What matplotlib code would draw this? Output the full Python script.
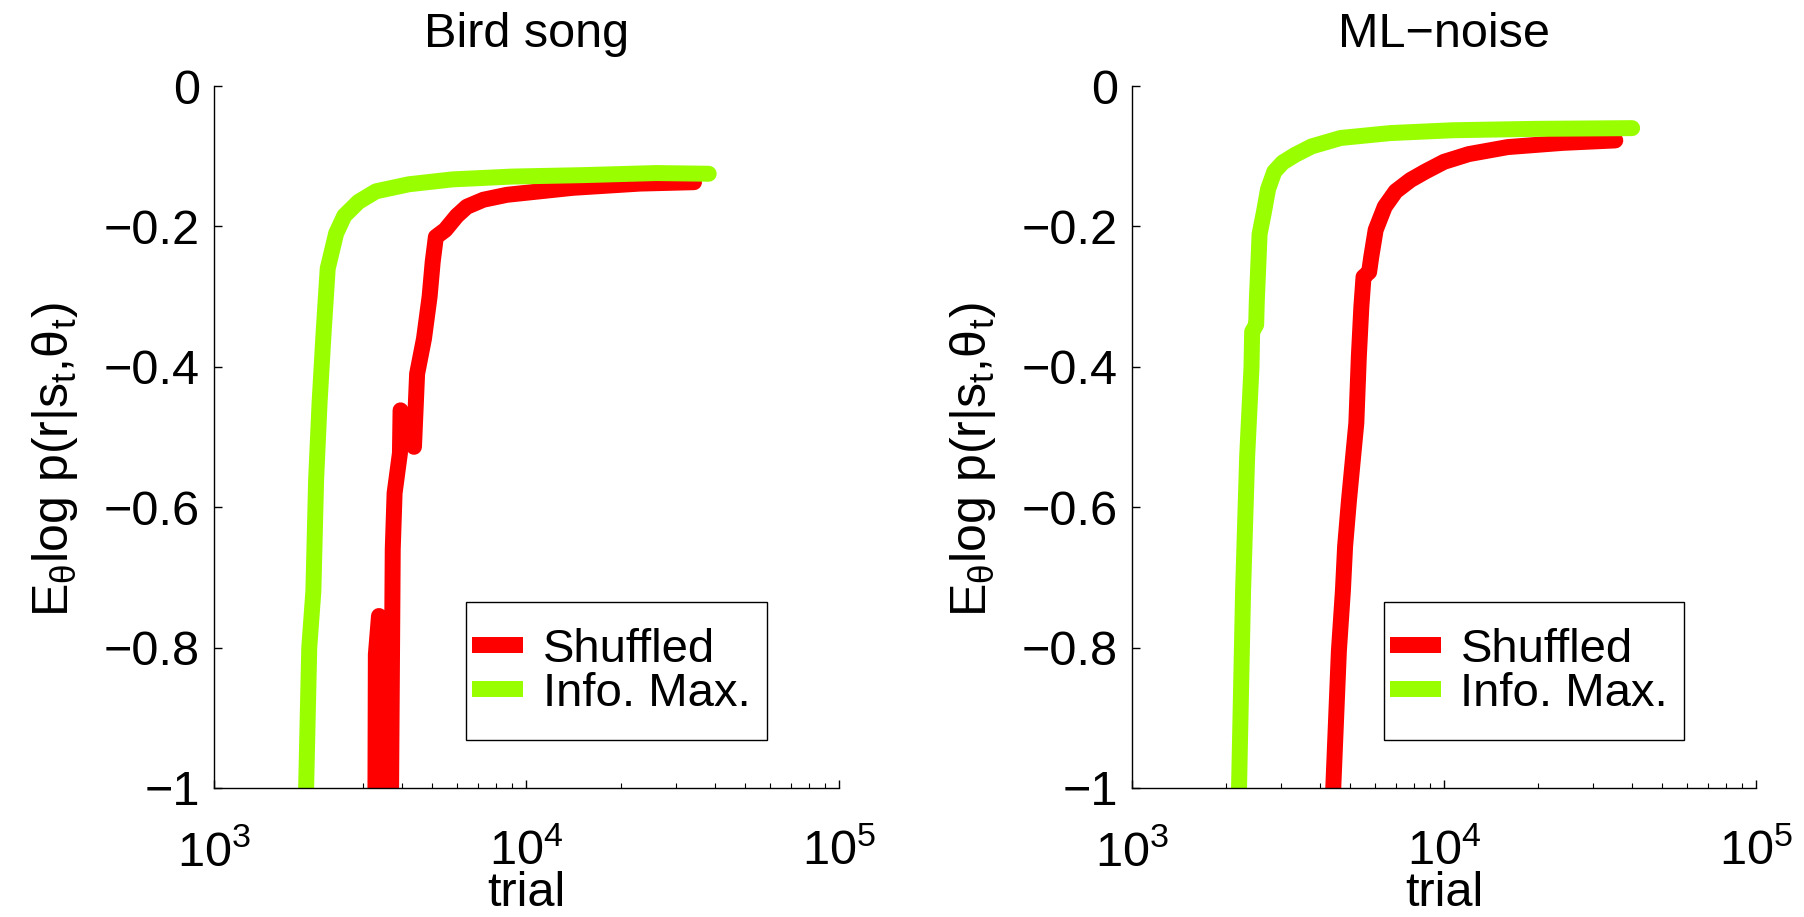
import matplotlib
matplotlib.use("Agg")
import matplotlib.pyplot as plt
from matplotlib.patches import Rectangle
from matplotlib.ticker import NullFormatter, FixedLocator, FixedFormatter, LogFormatterMathtext

# ==============================
# Data
# ==============================

# Bird song
bird_info_trial = [1972, 1972, 2018, 2080, 2123, 2178, 2244, 2312, 2460, 2612,
                   2900, 3300, 4200, 5800, 9000, 15000, 26000, 38282]
bird_info_val = [-1.10, -1.00, -0.80, -0.72, -0.56, -0.45, -0.35, -0.26, -0.21, -0.185,
                 -0.165, -0.150, -0.140, -0.133, -0.129, -0.127, -0.124, -0.125]

bird_shuf_trial = [3281, 3296, 3373, 3467, 3589, 3681, 3733, 3784, 3936, 3954,
                   4365, 4467, 4699, 4898, 5012, 5129, 5495, 5984, 6442, 7278,
                   8650, 11041, 14093, 23067, 34356]
bird_shuf_val = [-1.10, -0.81, -0.755, -0.95, -1.10, -1.05, -0.66, -0.58, -0.523, -0.462,
                 -0.514, -0.41, -0.36, -0.30, -0.25, -0.215, -0.205, -0.185, -0.172, -0.162,
                 -0.155, -0.150, -0.145, -0.139, -0.137]

# ML-noise
ml_info_trial = [2193, 2203, 2270, 2339, 2415, 2427, 2500, 2512, 2564, 2649,
                 2729, 2858, 3041, 3334, 3767, 4667, 6745, 10691, 19770, 40087]
ml_info_val = [-1.10, -1.00, -0.719, -0.528, -0.401, -0.35, -0.34, -0.306, -0.211, -0.179,
               -0.147, -0.122, -0.109, -0.098, -0.086, -0.074, -0.067, -0.063, -0.061, -0.060]

ml_shuf_trial = [4365, 4416, 4603, 4742, 4819, 4955, 5236, 5333, 5433, 5521,
                 5754, 5848, 6039, 6457, 7000, 7800, 8700, 10000, 12000, 16000, 24000, 35400]
ml_shuf_val = [-1.10, -1.00, -0.805, -0.719, -0.656, -0.592, -0.48, -0.386, -0.315, -0.272,
               -0.265, -0.243, -0.205, -0.172, -0.150, -0.134, -0.122, -0.108, -0.097, -0.087,
               -0.081, -0.0775]

titles = ["Bird song", "ML\u2212noise"]
yticks = [-1, -0.8, -0.6, -0.4, -0.2, 0]
ytick_labels = ["\u22121", "\u22120.8", "\u22120.6", "\u22120.4", "\u22120.2", "0"]
xticks = [1e3, 1e4, 1e5]

RED = "#ff0000"
GREEN = "#99ff00"

# ==============================
# Style
# ==============================

plt.rcParams["font.family"] = ["Liberation Sans", "DejaVu Sans"]
plt.rcParams["mathtext.fontset"] = "custom"
plt.rcParams["mathtext.rm"] = "Liberation Sans"
plt.rcParams["mathtext.it"] = "Liberation Sans"
plt.rcParams["mathtext.bf"] = "Liberation Sans:bold"
FS = 35
W, H = 1804, 917
XTICK_TOP = 830   # pixel row of the top of the x tick labels

fig = plt.figure(figsize=(W / 100, H / 100), dpi=100)
positions = [[0.1186, 0.1407, 0.3465, 0.7655], [0.6275, 0.1407, 0.3459, 0.7655]]
series = [(bird_shuf_trial, bird_shuf_val, bird_info_trial, bird_info_val),
          (ml_shuf_trial, ml_shuf_val, ml_info_trial, ml_info_val)]

axes = []
for pos, title, (st, sv, it, iv) in zip(positions, titles, series):
    ax = fig.add_axes(pos)
    ax.plot(st, sv, color=RED, lw=11.5, solid_capstyle="round",
            solid_joinstyle="round", label="Shuffled")
    ax.plot(it, iv, color=GREEN, lw=11.5, solid_capstyle="round",
            solid_joinstyle="round", label="Info. Max.")
    ax.set_xscale("log")
    ax.set_xlim(1e3, 1e5)
    ax.set_ylim(-1, 0)
    ax.xaxis.set_major_locator(FixedLocator(xticks))
    ax.xaxis.set_major_formatter(LogFormatterMathtext())
    ax.xaxis.set_minor_formatter(NullFormatter())
    ax.yaxis.set_major_locator(FixedLocator(yticks))
    ax.yaxis.set_major_formatter(FixedFormatter(ytick_labels))

    for side in ["top", "right"]:
        ax.spines[side].set_visible(False)
    for side in ["left", "bottom"]:
        ax.spines[side].set_linewidth(1.0)

    ax.tick_params(axis="y", which="major", direction="in", length=6, width=1,
                   labelsize=FS, pad=10)
    ax.tick_params(axis="x", which="major", direction="in", length=6, width=1,
                   labelsize=FS, pad=20)
    ax.tick_params(axis="x", which="minor", direction="in", length=3.5, width=0.8)

    ax.set_title(title, fontsize=FS, y=(788 - 47) / 702, pad=0, va="baseline")
    ax.set_xlabel("trial", fontsize=FS, va="baseline")
    ax.xaxis.set_label_coords(0.5, (788 - 906) / 702)
    ax.set_ylabel(r"$\mathregular{E_{\theta}log\ p(r|s_t{,}\theta_t)}$", fontsize=36)
    ax.yaxis.set_label_coords(-0.2144, 0.467)

    # legend: entries without frame, plus a plain box like the reference
    leg = ax.legend(loc="upper left", bbox_to_anchor=(0.4128, 0.2279), fontsize=34,
                    frameon=False, handlelength=1.08, handletextpad=0.42,
                    labelspacing=0.0, borderpad=0, borderaxespad=0)
    for line in leg.get_lines():
        line.set_solid_capstyle("butt")
    ax.add_patch(Rectangle((0.4032, 0.0684), 0.4816, 0.1966, transform=ax.transAxes,
                           fill=False, edgecolor="black", lw=1.0, zorder=5))
    axes.append(ax)

# put the top of the x tick labels on the same row as in the reference
fig.canvas.draw()
for ax in axes:
    bb = ax.get_xticklabels()[0].get_window_extent()
    shift = XTICK_TOP - (H - bb.y1)
    ax.tick_params(axis="x", which="major", pad=20 + shift * 72 / 100)

fig.savefig("out.png", dpi=100)
